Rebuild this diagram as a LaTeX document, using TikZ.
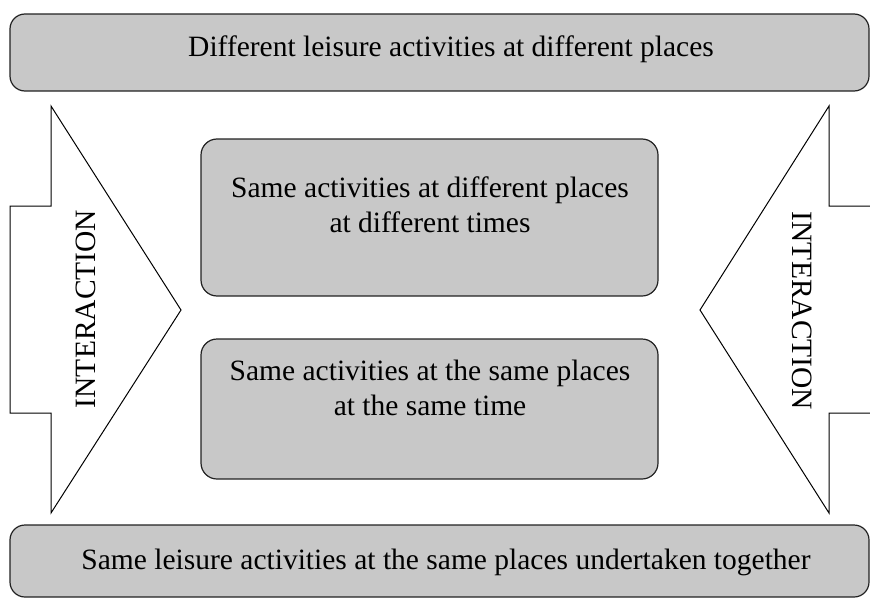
\documentclass[tikz,border=0pt]{standalone}
\usepackage{fontspec}
\setmainfont{Liberation Serif}
\definecolor{boxgray}{HTML}{C8C8C8}
\definecolor{edge}{HTML}{222222}
\tikzset{
  bar/.style={draw=edge, fill=boxgray, line width=1.2pt, rounded corners=15pt, inner sep=0pt},
  midbox/.style={draw=edge, fill=boxgray, line width=1.2pt, rounded corners=16pt, inner sep=0pt,
                 minimum width=457pt},
  lbl/.style={font=\fontsize{29.5}{35}\selectfont, align=center, inner sep=0pt},
  arrowshape/.style={draw=black, line width=1pt, line join=miter},
}
\begin{document}
\begin{tikzpicture}[x=1pt,y=-1pt]
\useasboundingbox (0,0) rectangle (870,597);
\begin{scope}
\clip (0,0) rectangle (870,597);
% top and bottom bars
\node[bar, minimum width=859pt, minimum height=77pt] (top) at (439.5,52.5) {};
\node[bar, minimum width=859pt, minimum height=72pt] (bottom) at (439.5,561) {};
\node[lbl] (toptext) at (451,49) {Different leisure activities at different places};
\node[lbl] (bottext) at (446,562) {Same leisure activities at the same places undertaken together};
% middle boxes
\node[midbox, minimum height=157pt] (box1) at (429.5,217.5) {};
\node[midbox, minimum height=140pt] (box2) at (429.5,409) {};
\node[lbl] (box1text) at (430,205) {Same activities at different places\\at different times};
\node[lbl] (box2text) at (430,388) {Same activities at the same places\\at the same time};
% left arrow
\draw[arrowshape] (10,206) -- (51,206) -- (51,106) -- (181,310) -- (51,513) -- (51,413) -- (10,413) -- cycle;
% right arrow (open towards the right edge)
\draw[arrowshape] (875,206) -- (829,206) -- (829,106) -- (700,310) -- (829,513) -- (829,413) -- (875,413);
\node[lbl, rotate=90] (lefttext) at (86,309) {INTERACTION};
\node[lbl, rotate=-90] (righttext) at (802,311) {INTERACTION};
\end{scope}
\end{tikzpicture}
\end{document}
